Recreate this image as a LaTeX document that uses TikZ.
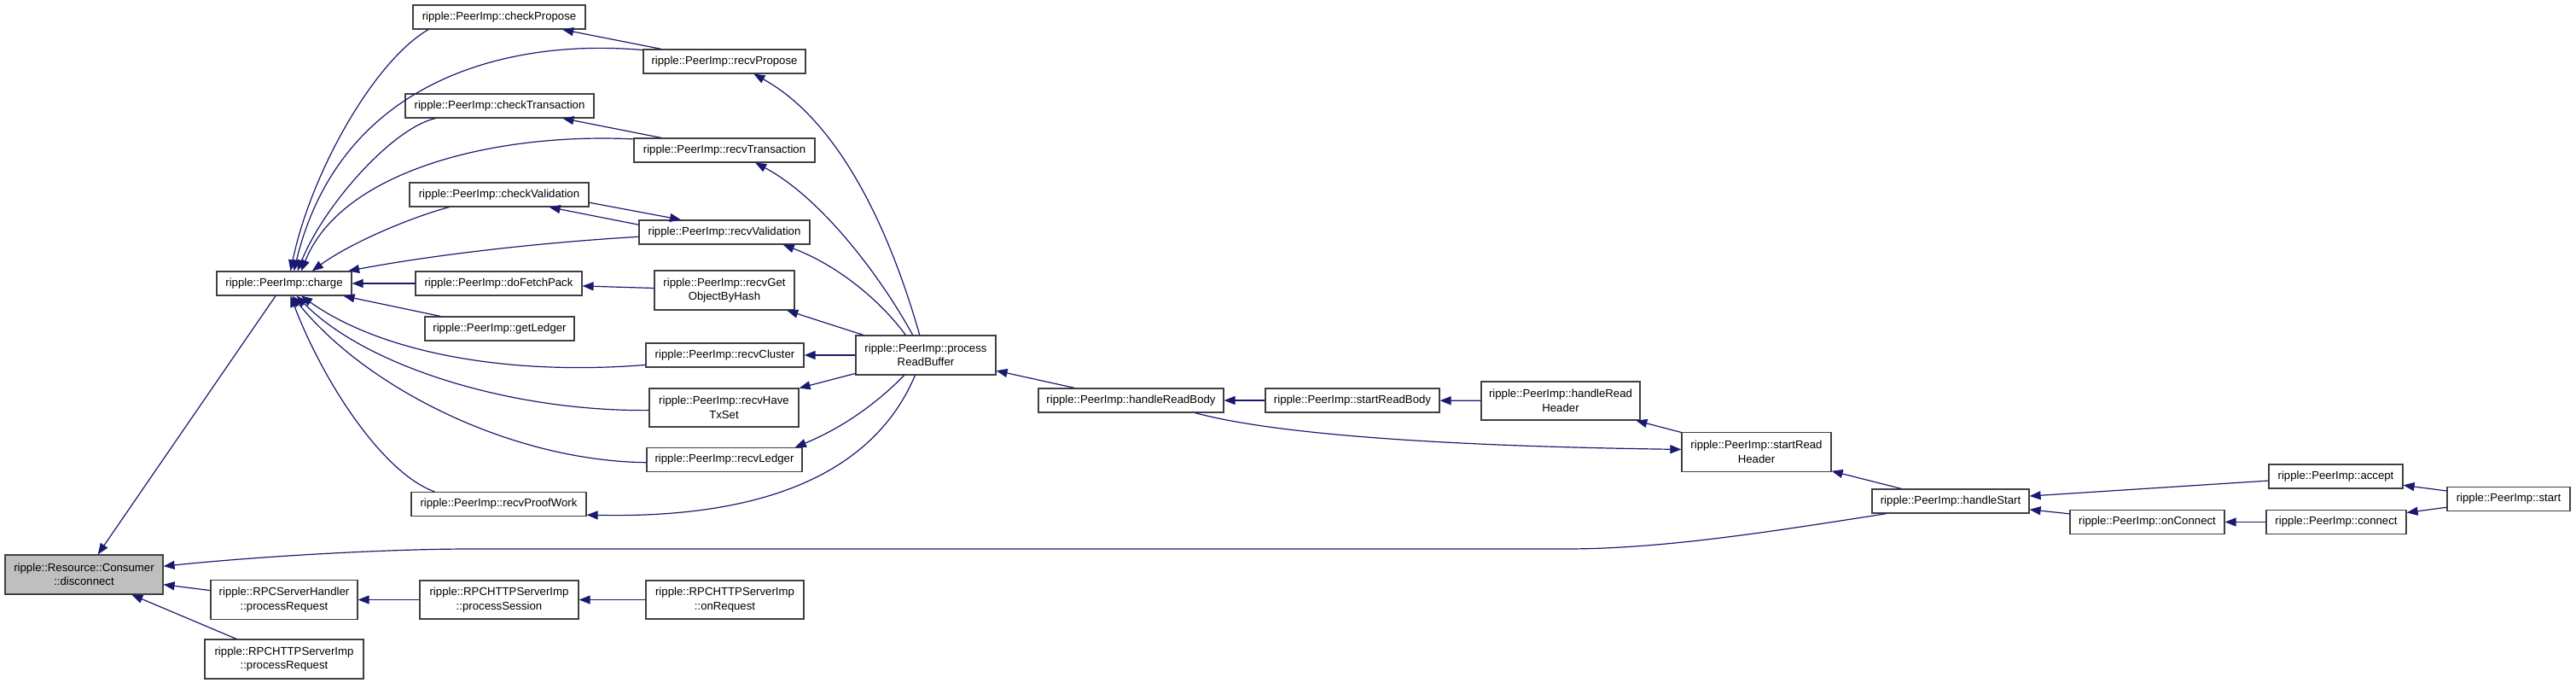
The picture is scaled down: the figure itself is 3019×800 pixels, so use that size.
\documentclass[tikz,border=0pt]{standalone}
\usepackage{fontspec}
\setmainfont{Liberation Sans}
\usetikzlibrary{arrows.meta}
\definecolor{edgeblue}{RGB}{25,25,112}
\definecolor{boxline}{RGB}{64,64,64}
\definecolor{boxgray}{RGB}{191,191,191}
\tikzset{
  func/.style={
    draw=boxline,
    line width=1.2pt,
    fill=white,
    shape=rectangle,
    inner sep=2pt,
    align=center,
    minimum height=28pt,
    font=\fontsize{13.2}{16.5}\selectfont
  },
  twoline/.style={
    func,
    minimum height=46pt
  },
  current/.style={
    twoline,
    fill=boxgray
  },
  call/.style={
    draw=edgeblue,
    line width=1.2pt,
    -{Triangle[length=13pt,width=10pt]}
  }
}
\begin{document}
\begin{tikzpicture}[x=1pt,y=-1pt]
  \useasboundingbox (0,0) rectangle (3019,800);
  % the function and its callers
  \node[current,minimum width=185] (disc) at (98.5,673) {ripple::Resource::Consumer\\::disconnect};
  \node[func,minimum width=158] (charge) at (333,332) {ripple::PeerImp::charge};
  \node[twoline,minimum width=172] (rpcproc) at (333,702.5) {ripple::RPCServerHandler\\::processRequest};
  \node[twoline,minimum width=186] (httpproc) at (333,772) {ripple::RPCHTTPServerImp\\::processRequest};
  % callers of charge
  \node[func,minimum width=202] (chkprop) at (585,20) {ripple::PeerImp::checkPropose};
  \node[func,minimum width=190] (rcvprop) at (849,72) {ripple::PeerImp::recvPropose};
  \node[func,minimum width=221] (chktx) at (585.5,124) {ripple::PeerImp::checkTransaction};
  \node[func,minimum width=212] (rcvtx) at (849,176) {ripple::PeerImp::recvTransaction};
  \node[func,minimum width=210] (chkval) at (585,228) {ripple::PeerImp::checkValidation};
  \node[func,minimum width=200] (rcvval) at (849,272) {ripple::PeerImp::recvValidation};
  \node[func,minimum width=195] (fetch) at (584.5,332) {ripple::PeerImp::doFetchPack};
  \node[twoline,minimum width=164] (getobj) at (849,340) {ripple::PeerImp::recvGet\\ObjectByHash};
  \node[func,minimum width=175] (getledger) at (585.5,385) {ripple::PeerImp::getLedger};
  \node[func,minimum width=185] (rcvcluster) at (849.5,416) {ripple::PeerImp::recvCluster};
  \node[twoline,minimum width=175,minimum height=45] (rcvhave) at (848.5,477.5) {ripple::PeerImp::recvHave\\TxSet};
  \node[func,minimum width=182] (rcvledger) at (849,538.5) {ripple::PeerImp::recvLedger};
  \node[func,minimum width=205] (proofwork) at (584.5,590.5) {ripple::PeerImp::recvProofWork};
  % rpc chain
  \node[twoline,minimum width=186,minimum height=45] (session) at (585,702.5) {ripple::RPCHTTPServerImp\\::processSession};
  \node[twoline,minimum width=185,minimum height=45] (onreq) at (849.5,702.5) {ripple::RPCHTTPServerImp\\::onRequest};
  % read chain
  \node[twoline,minimum width=164] (procbuf) at (1085,416) {ripple::PeerImp::process\\ReadBuffer};
  \node[func,minimum width=217] (hrbody) at (1325.5,469) {ripple::PeerImp::handleReadBody};
  \node[func,minimum width=204] (srbody) at (1585,469) {ripple::PeerImp::startReadBody};
  \node[twoline,minimum width=186,minimum height=45] (hrheader) at (1829,469.5) {ripple::PeerImp::handleRead\\Header};
  \node[twoline,minimum width=175] (srheader) at (2058.5,529.5) {ripple::PeerImp::startRead\\Header};
  \node[func,minimum width=184] (hstart) at (2286,587) {ripple::PeerImp::handleStart};
  \node[func,minimum width=157] (accept) at (2737.5,558) {ripple::PeerImp::accept};
  \node[func,minimum width=181] (onconn) at (2516.5,611.5) {ripple::PeerImp::onConnect};
  \node[func,minimum width=164] (connect) at (2738,611.5) {ripple::PeerImp::connect};
  \node[func,minimum width=144] (start) at (2940,584.5) {ripple::PeerImp::start};

  % straight calls
  \foreach \a/\b in {charge/disc,rpcproc/disc,httpproc/disc,fetch/charge,getledger/charge,
      rcvprop/chkprop,rcvtx/chktx,getobj/fetch,procbuf/getobj,procbuf/rcvcluster,procbuf/rcvhave,
      hrbody/procbuf,srbody/hrbody,hrheader/srbody,srheader/hrheader,hstart/srheader,
      accept/hstart,onconn/hstart,connect/onconn,start/accept,start/connect,
      session/rpcproc,onreq/session}{
    \draw[call] (\a) -- (\b);
  }
  % curved calls into charge
  \draw[call] (chkprop.190) .. controls (440,70) and (365,200) .. (charge.63);
  \draw[call] (rcvprop.172) .. controls (600,45) and (400,90) .. (charge.52);
  \draw[call] (chktx.191) .. controls (460,150) and (380,240) .. (charge.43);
  \draw[call] (rcvtx.173) .. controls (580,155) and (400,200) .. (charge.36);
  \draw[call] (chkval.194) .. controls (480,255) and (410,285) .. (charge.24);
  \draw[call] (rcvval.183) .. controls (620,285) and (500,300) .. (charge.11);
  \draw[call] (rcvcluster.187) .. controls (600,440) and (450,415) .. (charge.-36);
  \draw[call] (rcvhave.182) .. controls (600,482) and (430,430) .. (charge.-45);
  \draw[call] (rcvledger.182) .. controls (600,540) and (430,455) .. (charge.-57);
  \draw[call] (proofwork.169) .. controls (450,555) and (380,450) .. (charge.-63);
  \draw[call] (chkval.-5) -- (rcvval.164);
  \draw[call] (rcvval.175) -- (chkval.-14);
  % curved calls out of processReadBuffer
  \draw[call] (procbuf.107) .. controls (1040,260) and (980,140) .. (rcvprop.-23);
  \draw[call] (procbuf.123) .. controls (1030,320) and (960,230) .. (rcvtx.-22);
  \draw[call] (procbuf.135) .. controls (1030,350) and (980,310) .. (rcvval.-12);
  \draw[call] (procbuf.223) .. controls (1030,470) and (990,500) .. (rcvledger.10);
  \draw[call] (procbuf.242) .. controls (1030,540) and (920,608) .. (proofwork.-7);
  \draw[call] (hrbody.-11) .. controls (1480,505) and (1650,522) .. (srheader.178);
  \draw[call] (hstart.191) .. controls (2080,622) and (1950,643) .. (1835,643)
    -- (552,643) .. controls (450,643) and (300,652) .. (disc.6);
\end{tikzpicture}
\end{document}
